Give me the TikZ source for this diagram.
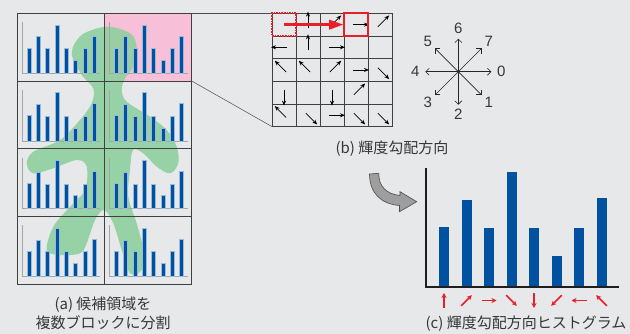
\documentclass[tikz,border=0pt]{standalone}
\usepackage{fontspec}
\setmainfont{Liberation Sans}
\newfontfamily\jp{Noto Sans CJK JP}
\usetikzlibrary{arrows.meta}

\definecolor{bg}{RGB}{231,232,234}
\definecolor{barblue}{RGB}{0,82,160}
\definecolor{leaf}{RGB}{143,208,160}
\definecolor{roipink}{RGB}{247,192,216}
\definecolor{markred}{RGB}{232,30,40}
\definecolor{ink}{RGB}{55,55,55}

\begin{document}
\begin{tikzpicture}[x=1pt,y=-1pt,>={Stealth[length=5pt,width=4pt]},
  cell/.style={minimum width=87.2pt,minimum height=67.7pt,inner sep=0pt,outer sep=0pt},
  frame/.style={draw=black!75,line width=0.8pt},
  zoomline/.style={draw=black!70,line width=0.5pt},
  miniaxis/.style={draw=black!35,line width=0.8pt},
  minibar/.style={fill=barblue,draw=barblue!40,line width=0.6pt},
  gradarrow/.style={->,black,line width=0.7pt},
  redbox/.style={draw=markred,line width=1.6pt,minimum width=24pt,minimum height=22.7pt,inner sep=0pt,outer sep=0pt},
  compass/.style={black!85,line width=0.6pt,-{Straight Barb[length=3.5pt,width=7pt]}},
  digit/.style={text=ink,font=\fontsize{15}{16}\selectfont,inner sep=0pt},
  caption/.style={text=ink,font=\jp\fontsize{15}{19}\selectfont,inner sep=0pt,align=center},
  axisline/.style={draw=black!88,line width=1.8pt},
  dirarrow/.style={markred,line width=1.5pt,-{Stealth[length=5pt,width=5pt]}}]

  \fill[bg] (0,0) rectangle (630,334);
  \useasboundingbox (0,0) rectangle (630,334);

  % (a) candidate region split into 2x4 blocks
  \node[cell,fill=roipink,anchor=north west] (roi) at (104.5,13.3) {};
  \node[anchor=north west,minimum width=174.4pt,minimum height=270.7pt,inner sep=0pt,outer sep=0pt] (blocks) at (17.3,13.3) {};
  \fill[leaf,opacity=.9] plot[smooth cycle,tension=.55] coordinates {
    (106.7,26.7) (130,33.3) (136.7,46.7) (133.3,66.7) (125,78.3) (121.7,90)
    (126.7,101.7) (150,116.7) (166.7,130) (176.7,146.7) (178.3,163.3) (170,173.3)
    (156.7,166.7) (143.3,153.3) (133,150) (130,170) (128.3,196.7) (136.7,223.3)
    (143.3,250) (141.7,270) (130,273.3) (121.7,250) (113.3,223.3) (104,210)
    (95,220) (86.7,243.3) (80,253.3) (60,255) (46.7,250) (53.3,226.7) (70,206.7)
    (85,190) (86.7,166.7) (76.7,160) (53.3,168.3) (33.3,173.3) (26.7,163.3)
    (33.3,151.7) (60,140) (80,120) (91.7,103.3) (93.3,88.3) (81.7,75) (71.7,53.3)
    (81.7,35)};
  \foreach \c in {0,1}
    \foreach \r in {0,...,3} {
      \begin{scope}[shift={(17.3+87.2*\c,13.3+67.7*\r)}]
        \draw[miniaxis] (5,9) -- (5,60) -- (83,60);
        \foreach \h [count=\i from 0] in {60,87,59,115,59,31,59,89}
          \filldraw[minibar] (9.7+9.33*\i,60) rectangle ++(4,-0.42*\h);
      \end{scope}
    }
  \draw[frame] (blocks.north west) rectangle (blocks.south east);
  \draw[frame] (blocks.north) -- (blocks.south);
  \foreach \r in {1,2,3}
    \draw[frame] (17.3,13.3+67.7*\r) -- (191.7,13.3+67.7*\r);

  % (b) gradient direction per pixel
  \node[anchor=north west,minimum width=120pt,minimum height=113.3pt,inner sep=0pt,outer sep=0pt] (grad) at (272,13.3) {};
  \draw[zoomline] (roi.north east) -- (grad.north west);
  \draw[zoomline] (roi.south east) -- (grad.south west);
  \foreach \i in {0,...,5}
    \draw[frame] (272+24*\i,13.3) -- (272+24*\i,126.7);
  \foreach \j in {0,...,5}
    \draw[frame] (272,13.3+22.67*\j) -- (392,13.3+22.67*\j);
  \foreach \c/\r/\k in {1/0/6, 2/0/7, 3/0/0, 4/0/7,
                         0/1/4, 1/1/6, 2/1/0,
                         0/2/5, 1/2/5, 2/2/7, 3/2/0, 4/2/1,
                         0/3/2, 2/3/2, 3/3/7,
                         0/4/5, 1/4/1, 2/4/0, 3/4/1, 4/4/1}
    \draw[gradarrow] (284+24*\c,24.6+22.67*\r) ++(45*\k+180:3) -- ++(45*\k:16);
  \node[redbox,densely dotted,anchor=north west] (src) at (272,13.3) {};
  \node[redbox,anchor=north west] (dst) at (344,13.3) {};
  \draw[markred,line width=3.5pt,-{Triangle[length=15pt,width=9pt]}] (src.center) -- (dst.west);

  % direction codes 0..7
  \coordinate (ori) at (458.3,71.7);
  \foreach \k in {0,...,7} {
    \path (ori) ++(45*\k:33) coordinate (d\k) ++(45*\k:10) node[digit] (n\k) {\k};
    \draw[compass] (ori) -- (d\k);
  }
  \node[caption] (capB) at (392,148.5) {(b) 輝度勾配方向};

  \filldraw[fill=black!38,draw=black!70,line width=0.6pt]
    (369.5,174) -- (378.8,173.3) .. controls (378.5,186) and (386,194) .. (400,195.5)
    -- (400,191.7) -- (416.7,201.7) -- (399.5,211.7) -- (399.5,205.5)
    .. controls (380,204) and (369.5,192) .. (369.5,174) -- cycle;

  % (c) histogram of directions
  \coordinate (o) at (426,286.7);
  \foreach \h [count=\i from 0] in {60,86.7,58.7,114.7,58.7,30.7,58.7,88.7}
    \fill[barblue] (439+22.5*\i,286.7) rectangle ++(10,-\h);
  \draw[axisline] (426,168.3) -- (o) -- (619.3,286.7);
  \foreach \k [count=\i from 0] in {6,7,0,1,2,3,4,5}
    \draw[dirarrow] (444+22.5*\i,300.5) ++(45*\k+180:7.5) -- ++(45*\k:15);

  \node[caption] (capA) at (103,313.5) {(a) 候補領域を\\複数ブロックに分割};
  \node[caption] (capC) at (526,323.5) {(c) 輝度勾配方向ヒストグラム};
\end{tikzpicture}
\end{document}
